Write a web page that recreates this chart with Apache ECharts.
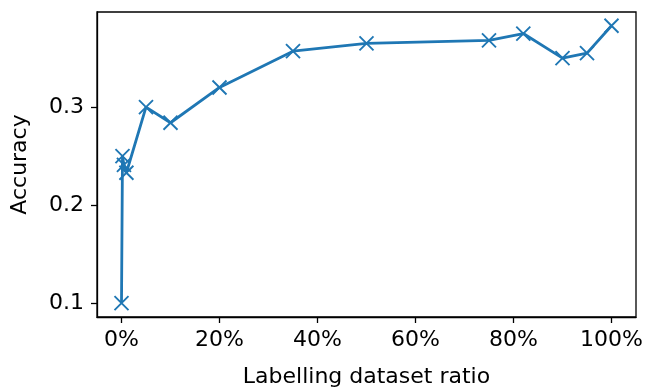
<!DOCTYPE html>
<html><head><meta charset="utf-8">
<script src="https://cdn.jsdelivr.net/npm/echarts@6/dist/echarts.min.js"></script>
<style>html,body{margin:0;padding:0;background:#fff}#c{width:646px;height:387px}</style>
</head><body><div id="c"></div>
<script>
const ratios = [0, 0.2, 0.5, 1, 5, 10, 20, 35, 50, 75, 82, 90, 95, 100];
const accuracy = [0.100, 0.250, 0.241, 0.233, 0.300, 0.284, 0.320, 0.357, 0.365, 0.368, 0.375, 0.350, 0.355, 0.383];
const xTicks = [0, 20, 40, 60, 80, 100];
const yTicks = [0.1, 0.2, 0.3];

const chart = echarts.init(document.getElementById('c'));
const font = 'DejaVu Sans';
chart.setOption({
  animation: false,
  grid: {left: 97, right: 10, top: 12, bottom: 70, show: true, borderColor: '#000', borderWidth: 1.3,
         containLabel: false, outerBoundsMode: 'none'},
  xAxis: {
    type: 'value', min: -5, max: 105,
    name: 'Labelling dataset ratio', nameLocation: 'middle', nameGap: 49,
    nameTextStyle: {fontFamily: font, fontSize: 22, color: '#000'},
    axisLine: {show: true, onZero: false, lineStyle: {color: '#000', width: 1.3}},
    axisTick: {show: true, customValues: xTicks, length: 6, lineStyle: {color: '#000', width: 1.3}},
    axisLabel: {customValues: xTicks, formatter: v => v + '%', fontFamily: font, fontSize: 22, color: '#000', margin: 12},
    splitLine: {show: false}
  },
  yAxis: {
    type: 'value', min: 0.0858, max: 0.397,
    name: 'Accuracy', nameLocation: 'middle', nameGap: 66,
    nameTextStyle: {fontFamily: font, fontSize: 22, color: '#000'},
    axisLine: {show: true, onZero: false, lineStyle: {color: '#000', width: 1.3}},
    axisTick: {show: true, customValues: yTicks, length: 6, lineStyle: {color: '#000', width: 1.3}},
    axisLabel: {customValues: yTicks, formatter: v => v.toFixed(1), fontFamily: font, fontSize: 22, color: '#000', margin: 13},
    splitLine: {show: false}
  },
  series: [{
    type: 'line',
    data: ratios.map((r, i) => [r, accuracy[i]]),
    lineStyle: {color: '#1f77b4', width: 2.8},
    symbol: 'path://M0,0L10,10M10,0L0,10',
    symbolSize: 14,
    showAllSymbol: true,
    itemStyle: {color: 'rgba(0,0,0,0)', borderColor: '#1f77b4', borderWidth: 1.9}
  }]
});
</script></body></html>
